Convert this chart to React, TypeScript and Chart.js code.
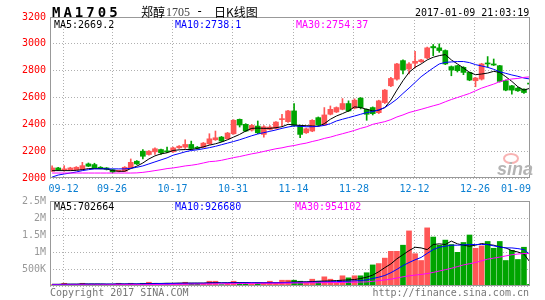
import React, { useEffect, useRef } from 'react';
import { Chart, registerables } from 'chart.js';

Chart.register(...registerables);

// ---------- data ----------
const dates = [
  '09-08','09-09','09-12','09-13','09-14','09-19','09-20','09-21','09-22','09-23',
  '09-26','09-27','09-28','09-29','09-30','10-10','10-11','10-12','10-13','10-14',
  '10-17','10-18','10-19','10-20','10-21','10-24','10-25','10-26','10-27','10-28',
  '10-31','11-01','11-02','11-03','11-04','11-07','11-08','11-09','11-10','11-11',
  '11-14','11-15','11-16','11-17','11-18','11-21','11-22','11-23','11-24','11-25',
  '11-28','11-29','11-30','12-01','12-02','12-05','12-06','12-07','12-08','12-09',
  '12-12','12-13','12-14','12-15','12-16','12-19','12-20','12-21','12-22','12-23',
  '12-26','12-27','12-28','12-29','12-30','01-03','01-04','01-05','01-06','01-09',
];

const openP = [
  2050,2075,2060,2060,2062,2062,2105,2100,2080,2075,
  2062,2050,2050,2075,2125,2200,2175,2195,2212,2200,
  2195,2225,2230,2250,2228,2230,2255,2285,2305,2292,
  2330,2437,2400,2357,2387,2325,2362,2370,2435,2420,
  2500,2392,2337,2350,2450,2395,2475,2492,2512,2555,
  2520,2595,2512,2525,2487,2562,2687,2737,2875,2812,
  2855,2867,2895,2980,2970,2950,2830,2837,2825,2787,
  2725,2737,2855,2850,2837,2725,2687,2670,2662,2705,
];
const closeP = [
  2075,2060,2068,2075,2080,2092,2088,2075,2070,2065,
  2045,2055,2080,2117,2105,2162,2200,2218,2188,2195,
  2225,2237,2250,2220,2222,2260,2292,2300,2275,2335,
  2430,2395,2350,2392,2337,2382,2380,2417,2438,2500,
  2392,2325,2367,2430,2395,2470,2512,2525,2555,2500,
  2580,2525,2475,2480,2575,2655,2742,2850,2805,2850,
  2870,2880,2970,2970,2950,2850,2805,2800,2787,2730,
  2745,2850,2850,2842,2720,2655,2655,2650,2637,2700,
];
const highP = [
  2090,2080,2092,2080,2085,2117,2112,2110,2085,2078,
  2065,2058,2085,2142,2130,2212,2205,2225,2215,2230,
  2230,2242,2285,2275,2235,2265,2330,2350,2310,2340,
  2435,2440,2405,2400,2425,2390,2390,2420,2475,2505,
  2555,2395,2372,2435,2455,2525,2537,2530,2592,2575,
  2590,2600,2515,2530,2580,2660,2750,2855,2880,2860,
  2945,2885,2975,2995,3000,2955,2835,2840,2830,2790,
  2750,2855,2905,2887,2840,2730,2690,2675,2665,2712,
];
const lowP = [
  2050,2055,2050,2058,2060,2060,2085,2072,2068,2060,
  2040,2045,2048,2072,2100,2142,2170,2175,2175,2188,
  2190,2220,2220,2215,2215,2225,2250,2280,2270,2290,
  2325,2380,2345,2350,2330,2305,2358,2365,2387,2415,
  2385,2300,2332,2345,2390,2390,2470,2488,2508,2495,
  2515,2515,2430,2470,2480,2555,2680,2730,2775,2775,
  2820,2862,2890,2912,2937,2845,2762,2790,2770,2725,
  2680,2730,2825,2838,2715,2650,2625,2645,2630,2695,
];
const ma5 = [
  2055,2055,2055,2055,2057,2062,2070,2070,2070,2068,
  2055,2050,2050,2070,2088,2112,2142,2165,2180,2188,
  2205,2210,2212,2212,2220,2232,2245,2255,2268,2285,
  2305,2325,2350,2370,2372,2370,2370,2375,2382,2400,
  2395,2392,2390,2388,2385,2405,2438,2462,2480,2500,
  2530,2525,2512,2500,2505,2525,2580,2655,2725,2787,
  2825,2850,2880,2900,2912,2920,2880,2850,2820,2787,
  2770,2775,2782,2795,2787,2755,2720,2680,2655,2669,
];
const ma10 = [
  2007,2022,2030,2037,2045,2055,2062,2068,2068,2068,
  2068,2068,2068,2072,2080,2090,2105,2120,2135,2150,
  2170,2182,2195,2205,2210,2218,2226,2236,2248,2260,
  2272,2285,2300,2315,2328,2338,2348,2358,2370,2380,
  2388,2385,2382,2382,2385,2392,2405,2425,2438,2450,
  2462,2475,2488,2495,2508,2525,2555,2588,2630,2670,
  2712,2755,2788,2820,2850,2862,2865,2868,2868,2860,
  2845,2835,2825,2810,2792,2780,2768,2758,2745,2738,
];
const ma30 = [
  2037,2037,2037,2037,2037,2037,2037,2037,2037,2037,
  2037,2037,2037,2037,2038,2042,2048,2055,2062,2070,
  2075,2082,2090,2095,2102,2112,2122,2125,2132,2142,
  2152,2160,2170,2180,2188,2198,2208,2218,2225,2235,
  2242,2252,2260,2272,2282,2295,2305,2318,2330,2342,
  2355,2370,2382,2400,2410,2420,2435,2455,2470,2488,
  2500,2512,2525,2538,2550,2568,2585,2600,2615,2630,
  2650,2670,2685,2700,2718,2730,2738,2742,2750,2754,
];
// volume in thousands (K)
const volume = [
  40,40,80,50,50,80,50,50,50,50,
  50,80,50,80,50,80,110,80,50,80,
  80,80,110,80,80,80,140,140,40,80,
  140,100,100,50,100,100,140,100,170,170,
  170,140,100,200,140,270,200,100,300,240,
  300,300,390,620,660,820,1020,1020,1200,1620,
  950,750,1710,1440,1200,1350,1220,990,1280,1500,
  1110,1180,1310,1110,1310,750,1050,780,1140,50,
];
const volMa5 = [
  50,50,55,55,55,60,60,60,60,55,
  55,60,60,60,60,65,70,75,75,80,
  80,85,85,85,85,85,95,100,95,95,
  100,100,100,95,95,90,95,95,100,110,
  115,120,125,130,140,145,150,160,170,180,
  190,220,260,320,420,540,650,800,920,1040,
  1140,1120,1070,1220,1240,1220,1320,1240,1200,1170,
  1200,1250,1220,1200,1150,1120,1040,1000,940,703,
];
const volMa10 = [
  45,45,48,50,50,52,55,55,55,55,
  55,58,58,60,60,62,65,68,70,72,
  75,78,80,80,82,82,85,88,88,90,
  92,92,95,95,95,95,95,95,98,100,
  105,108,110,115,118,120,125,130,135,140,
  150,160,180,220,260,310,390,490,600,690,
  770,840,960,1070,1140,1170,1200,1200,1210,1220,
  1220,1220,1220,1180,1150,1120,1120,1100,1070,927,
];
const volMa30 = [
  30,30,30,30,30,32,32,32,34,34,
  36,36,38,38,40,40,42,44,46,48,
  50,52,54,56,58,60,62,64,66,68,
  70,72,74,76,78,80,80,82,84,86,
  88,90,92,94,96,98,100,102,105,108,
  112,116,122,138,158,178,200,235,270,300,
  320,340,365,400,440,480,520,570,620,655,
  690,740,790,820,850,885,920,940,955,954,
];

const xTickLabels = ['09-12','09-26','10-17','10-31','11-14','11-28','12-12','12-26','01-09'];
const priceTicks = [2000, 2200, 2400, 2600, 2800, 3000, 3200];
const volTicks = [0, 500, 1000, 1500, 2000, 2500];
const volTickLabels = ['', '500K', '1M', '1.5M', '2M', '2.5M'];

// ---------- styles ----------
const UP = '#ff5656';
const DOWN = '#00a400';
const MONO = '"DejaVu Sans Mono", "Liberation Mono", monospace';
const GRID = '#b0b0b0';
const FRAME = '#999999';
const X_MIN = -0.25;
const X_MAX = 79.1;
const X_SHIFT = 0.1;

const tickIndex = xTickLabels.map((l) => dates.indexOf(l));
const candleColors = openP.map((o, i) => (closeP[i] >= o ? UP : DOWN));

const framePlugin = {
  id: 'frame',
  afterDraw(chart: any) {
    const { ctx, chartArea } = chart;
    const { left, right, top, bottom } = chartArea;
    ctx.save();
    ctx.strokeStyle = FRAME;
    ctx.lineWidth = 1;
    ctx.strokeRect(Math.round(left) + 0.5, Math.round(top) + 0.5, Math.round(right - left) - 1, Math.round(bottom - top) - 1);
    ctx.restore();
  },
};

const xLabelPlugin = {
  id: 'xlabels',
  afterDraw(chart: any) {
    const { ctx, chartArea, scales } = chart;
    ctx.save();
    ctx.font = `10px ${MONO}`;
    ctx.fillStyle = '#0a7fd2';
    ctx.textBaseline = 'middle';
    tickIndex.forEach((idx, k) => {
      const last = k === tickIndex.length - 1;
      const px = scales.x.getPixelForValue(idx);
      ctx.textAlign = last ? 'right' : 'center';
      ctx.fillText(dates[idx], last ? chartArea.right + 1 : px, chartArea.bottom + 11);
    });
    ctx.restore();
  },
};

function xScaleOpts() {
  return {
    type: 'linear',
    min: X_MIN,
    max: X_MAX,
    offset: false,
    grid: { color: GRID, lineWidth: 1, drawTicks: false, offset: false },
    border: { display: false, dash: [1, 2] },
    ticks: { display: false },
    afterBuildTicks: (s: any) => {
      s.ticks = tickIndex.slice(0, -1).map((v) => ({ value: v }));
    },
    afterFit: (s: any) => {
      s.height = 0;
    },
  };
}

function lineDs(label: string, values: number[], color: string) {
  return {
    type: 'line',
    label,
    data: values.map((v, i) => ({ x: i + X_SHIFT, y: v })),
    borderColor: color,
    backgroundColor: color,
    borderWidth: 1,
    pointRadius: 0,
    tension: 0,
    order: 0,
  };
}

function mainConfig(): any {
  return {
    type: 'bar',
    data: {
      datasets: [
        lineDs('MA30', ma30, '#ff00ff'),
        lineDs('MA10', ma10, '#0000ff'),
        lineDs('MA5', ma5, '#000000'),
        {
          type: 'bar',
          label: 'body',
          data: openP.map((o, i) => ({ x: i + X_SHIFT, y: [o, closeP[i]] })),
          backgroundColor: candleColors,
          barThickness: 5,
          minBarLength: 1,
          grouped: false,
          order: 1,
        },
        {
          type: 'bar',
          label: 'wick',
          data: lowP.map((l, i) => ({ x: i + X_SHIFT, y: [l, highP[i]] })),
          backgroundColor: candleColors,
          barThickness: 1,
          grouped: false,
          order: 2,
        },
      ],
    },
    options: {
      animation: false,
      responsive: false,
      devicePixelRatio: 1,
      events: [],
      layout: { padding: { left: 0, right: 15, top: 17, bottom: 122 } },
      plugins: { legend: { display: false }, tooltip: { enabled: false } },
      scales: {
        x: xScaleOpts(),
        y: {
          type: 'linear',
          position: 'left',
          min: 2000,
          max: 3200,
          afterBuildTicks: (s: any) => {
            s.ticks = priceTicks.map((v) => ({ value: v }));
          },
          ticks: {
            color: '#ff0000',
            font: { family: MONO, size: 10 },
            padding: 4,
            callback: (v: any) => String(v),
          },
          grid: { color: GRID, lineWidth: 1, drawTicks: false },
          border: { display: false, dash: [1, 2] },
          afterFit: (s: any) => {
            s.width = 50;
          },
        },
      },
    },
    plugins: [framePlugin, xLabelPlugin],
  };
}

function volConfig(): any {
  return {
    type: 'bar',
    data: {
      datasets: [
        lineDs('MA30', volMa30, '#ff00ff'),
        lineDs('MA10', volMa10, '#0000ff'),
        lineDs('MA5', volMa5, '#000000'),
        {
          type: 'bar',
          label: 'volume',
          data: volume.map((v, i) => ({ x: i + X_SHIFT, y: v })),
          backgroundColor: candleColors,
          barThickness: 5,
          grouped: false,
          order: 1,
        },
      ],
    },
    options: {
      animation: false,
      responsive: false,
      devicePixelRatio: 1,
      events: [],
      layout: { padding: { left: 0, right: 15, top: 201, bottom: 14 } },
      plugins: { legend: { display: false }, tooltip: { enabled: false } },
      scales: {
        x: xScaleOpts(),
        y: {
          type: 'linear',
          position: 'left',
          min: 0,
          max: 2500,
          afterBuildTicks: (s: any) => {
            s.ticks = volTicks.map((v) => ({ value: v }));
          },
          ticks: {
            color: '#999999',
            font: { family: MONO, size: 10 },
            padding: 4,
            callback: (_v: any, i: number) => volTickLabels[i],
          },
          grid: { color: GRID, lineWidth: 1, drawTicks: false },
          border: { display: false, dash: [1, 2] },
          afterFit: (s: any) => {
            s.width = 50;
          },
        },
      },
    },
    plugins: [framePlugin],
  };
}

const abs = (left: number, top: number, extra: React.CSSProperties = {}): React.CSSProperties => ({
  position: 'absolute',
  left,
  top,
  whiteSpace: 'nowrap',
  margin: 0,
  ...extra,
});

const monoText: React.CSSProperties = { fontFamily: MONO, fontSize: 10, lineHeight: '12px' };

export default function App() {
  const mainRef = useRef<HTMLCanvasElement>(null);
  const volRef = useRef<HTMLCanvasElement>(null);

  useEffect(() => {
    const c1 = new Chart(mainRef.current as HTMLCanvasElement, mainConfig());
    const c2 = new Chart(volRef.current as HTMLCanvasElement, volConfig());
    return () => {
      c1.destroy();
      c2.destroy();
    };
  }, []);

  return (
    <div style={{ position: 'fixed', left: 0, top: 0, width: 545, height: 300, background: '#fff', overflow: 'hidden' }}>
      <canvas ref={mainRef} width={545} height={300} style={{ position: 'absolute', left: 0, top: 0, width: 545, height: 300 }} />
      <canvas ref={volRef} width={545} height={300} style={{ position: 'absolute', left: 0, top: 0, width: 545, height: 300 }} />

      {/* title */}
      <div style={abs(52, 5, { fontFamily: MONO, fontWeight: 'bold', fontSize: 14, lineHeight: '14px', letterSpacing: 3, color: '#000' })}>MA1705</div>
      <div style={abs(141, 5, { fontFamily: '"Noto Sans CJK SC", sans-serif', fontSize: 12, lineHeight: '13px', color: '#000' })}>郑醇</div>
      <div style={abs(166, 6, { fontFamily: '"Liberation Serif", serif', fontSize: 12, lineHeight: '12px', color: '#444' })}>1705</div>
      <div style={abs(196, 5, { fontFamily: MONO, fontSize: 12, lineHeight: '13px', color: '#000' })}>-</div>
      <div style={abs(214, 5, { fontFamily: '"Noto Sans CJK SC", sans-serif', fontSize: 12, lineHeight: '13px', color: '#000' })}>日K线图</div>
      <div style={abs(415, 7, { ...monoText, color: '#000' })}>2017-01-09 21:03:19</div>

      {/* main legend */}
      <div style={abs(54, 19, { ...monoText, color: '#000' })}>MA5:2669.2</div>
      <div style={abs(175, 19, { ...monoText, color: '#0000ff' })}>MA10:2738.1</div>
      <div style={abs(296, 19, { ...monoText, color: '#ff00ff' })}>MA30:2754.37</div>

      {/* volume legend */}
      <div style={abs(54, 201, { ...monoText, color: '#000' })}>MA5:702664</div>
      <div style={abs(175, 201, { ...monoText, color: '#0000ff' })}>MA10:926680</div>
      <div style={abs(295, 201, { ...monoText, color: '#ff00ff' })}>MA30:954102</div>

      {/* watermark */}
      <div style={abs(503, 153, { width: 12, height: 7, border: '2px solid #f6a0a0', borderRadius: '50%', opacity: 0.8 })} />
      <div style={abs(497, 160, { fontFamily: '"Liberation Sans", sans-serif', fontWeight: 'bold', fontStyle: 'italic', fontSize: 18, lineHeight: '18px', color: '#b4b4b4' })}>sina</div>

      {/* footer */}
      <div style={abs(50, 287, { ...monoText, color: '#777' })}>Copyright 2017 SINA.COM</div>
      <div style={{ ...abs(0, 287, { ...monoText, color: '#777' }), left: 'auto', right: 16 }}>http://finance.sina.com.cn</div>
    </div>
  );
}
